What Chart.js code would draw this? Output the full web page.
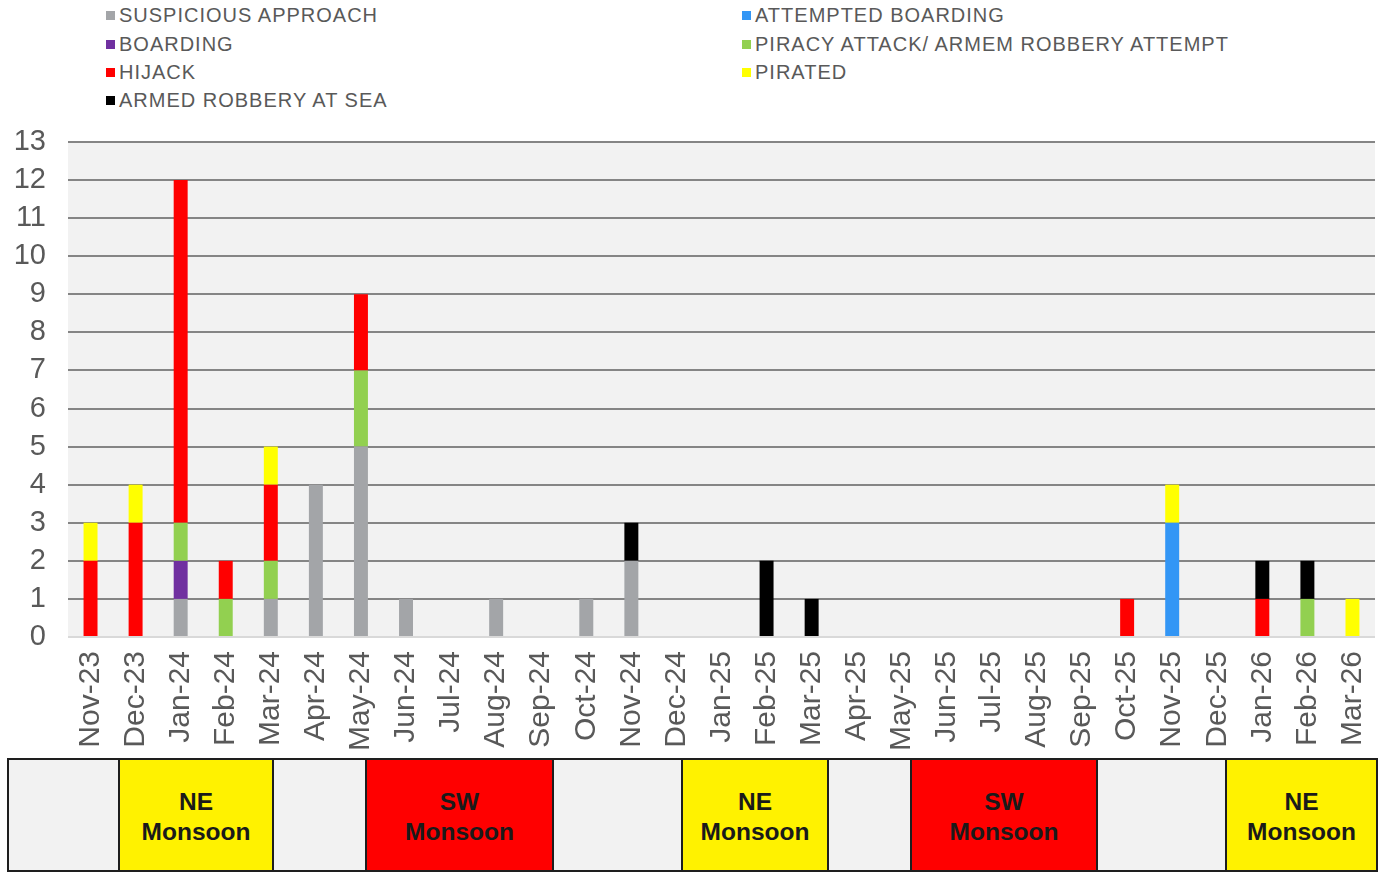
<!DOCTYPE html>
<html>
<head>
<meta charset="utf-8">
<script src="https://cdn.jsdelivr.net/npm/chart.js@4.4.1/dist/chart.umd.min.js"></script>
<style>
  html, body { margin: 0; padding: 0; background: #ffffff; }
  body { width: 1384px; height: 876px; position: relative; overflow: hidden; font-family: "Liberation Sans", Arial, sans-serif; }
  #wrap { position: absolute; left: 0; top: 0; width: 1384px; height: 760px; }
  #legend { position: absolute; left: 0; top: 0; width: 1384px; height: 120px; }
  .lg { position: absolute; height: 22px; line-height: 22px; font-size: 20px; letter-spacing: 1.0px; color: #595959; white-space: nowrap; }
  .lg i { display: inline-block; width: 9px; height: 9px; margin-right: 4px; vertical-align: 2px; }
  .seg { position: absolute; box-sizing: border-box; border: 2px solid #1e1e1e; display: flex; align-items: center; justify-content: center; text-align: center; font-weight: bold; font-size: 24.5px; line-height: 30px; padding-top: 3px; color: #1a1a1a; white-space: pre; }
</style>
</head>
<body>
<div id="legend"></div>
<div id="wrap"><canvas id="c"></canvas></div>
<div id="band"></div>
<script>
// ---- data ----
const months = ["Nov-23","Dec-23","Jan-24","Feb-24","Mar-24","Apr-24","May-24","Jun-24","Jul-24","Aug-24","Sep-24","Oct-24","Nov-24","Dec-24","Jan-25","Feb-25","Mar-25","Apr-25","May-25","Jun-25","Jul-25","Aug-25","Sep-25","Oct-25","Nov-25","Dec-25","Jan-26","Feb-26","Mar-26"];
const suspiciousApproach = [0,0,1,0,1,4,5,1,0,1,0,1,2,0,0,0,0,0,0,0,0,0,0,0,0,0,0,0,0];
const attemptedBoarding  = [0,0,0,0,0,0,0,0,0,0,0,0,0,0,0,0,0,0,0,0,0,0,0,0,3,0,0,0,0];
const boarding           = [0,0,1,0,0,0,0,0,0,0,0,0,0,0,0,0,0,0,0,0,0,0,0,0,0,0,0,0,0];
const piracyAttempt      = [0,0,1,1,1,0,2,0,0,0,0,0,0,0,0,0,0,0,0,0,0,0,0,0,0,0,0,1,0];
const hijack             = [2,3,9,1,2,0,2,0,0,0,0,0,0,0,0,0,0,0,0,0,0,0,0,1,0,0,1,0,0];
const pirated            = [1,1,0,0,1,0,0,0,0,0,0,0,0,0,0,0,0,0,0,0,0,0,0,0,1,0,0,0,1];
const armedRobbery       = [0,0,0,0,0,0,0,0,0,0,0,0,1,0,0,2,1,0,0,0,0,0,0,0,0,0,1,1,0];
const seriesNames = ["SUSPICIOUS APPROACH","ATTEMPTED BOARDING","BOARDING","PIRACY ATTACK/ ARMEM ROBBERY ATTEMPT","HIJACK","PIRATED","ARMED ROBBERY AT SEA"];
const yTicks = [0,1,2,3,4,5,6,7,8,9,10,11,12,13];
const seasonLabels = ["", "NE\nMonsoon", "", "SW\nMonsoon", "", "NE\nMonsoon", "", "SW\nMonsoon", "", "NE\nMonsoon"];

// ---- styles ----
const seriesColors = ["#a3a5a8","#3396f5","#7030a0","#92d050","#ff0000","#ffff00","#000000"];
const seasonColors = {"": "#f2f2f2", "NE\nMonsoon": "#fff200", "SW\nMonsoon": "#ff0000"};
const seasonEdges = [8,119,273,366,553,682,828,911,1097,1226,1377];

const seriesData = [suspiciousApproach, attemptedBoarding, boarding, piracyAttempt, hijack, pirated, armedRobbery];

const bgPlugin = {
  id: 'plotBg',
  beforeDraw(chart) {
    const a = chart.chartArea, ctx = chart.ctx;
    ctx.save();
    ctx.fillStyle = '#f2f2f2';
    ctx.fillRect(a.left, a.top, a.right - a.left, a.bottom - a.top);
    ctx.restore();
  }
};

const chart = new Chart(document.getElementById('c'), {
  type: 'bar',
  data: {
    labels: months,
    datasets: seriesNames.map((n, i) => ({
      label: n,
      data: seriesData[i],
      backgroundColor: seriesColors[i],
      borderWidth: 0,
      barPercentage: 0.31,
      categoryPercentage: 1.0
    }))
  },
  options: {
    responsive: true,
    maintainAspectRatio: false,
    animation: false,
    layout: { padding: { top: 142, left: 0, right: 9, bottom: 0 } },
    plugins: { legend: { display: false }, tooltip: { enabled: false } },
    scales: {
      x: {
        stacked: true,
        grid: { display: false, drawTicks: false },
        border: { display: false },
        ticks: { color: '#595959', font: { family: 'Liberation Sans', size: 30 }, maxRotation: 90, minRotation: 90, padding: 14, autoSkip: false },
        afterFit(s) { s.height = 123; s.paddingLeft = 0; s.paddingRight = 0; }
      },
      y: {
        stacked: true,
        min: 0, max: 13,
        afterBuildTicks(s) { s.ticks = yTicks.map(v => ({ value: v })); },
        grid: {
          drawTicks: false,
          lineWidth: 2,
          color: (ctx) => ctx.tick && ctx.tick.value === 0 ? '#d9d9d9' : '#858585'
        },
        border: { display: false },
        ticks: { color: '#595959', font: { family: 'Liberation Sans', size: 29 }, padding: 22 },
        afterFit(s) { s.width = 68; s.paddingTop = 0; s.paddingBottom = 0; }
      }
    }
  },
  plugins: [bgPlugin]
});

// ---- HTML legend (built from chart datasets) ----
const legend = document.getElementById('legend');
const rowY = [15, 44, 72, 100];
const colX = [106, 742];
chart.data.datasets.forEach((ds, i) => {
  const d = document.createElement('div');
  d.className = 'lg';
  d.style.left = colX[i % 2] + 'px';
  d.style.top = (rowY[Math.floor(i / 2)] - 11) + 'px';
  d.innerHTML = '<i style="background:' + ds.backgroundColor + '"></i>' + ds.label;
  legend.appendChild(d);
});

// ---- Monsoon band ----
const band = document.getElementById('band');
seasonLabels.forEach((t, i) => {
  const d = document.createElement('div');
  d.className = 'seg';
  const l = seasonEdges[i] - 1, r = seasonEdges[i + 1] + 1;
  d.style.left = l + 'px';
  d.style.width = (r - l) + 'px';
  d.style.top = '758px';
  d.style.height = '114px';
  d.style.background = seasonColors[t];
  d.textContent = t;
  band.appendChild(d);
});
</script>
</body>
</html>
